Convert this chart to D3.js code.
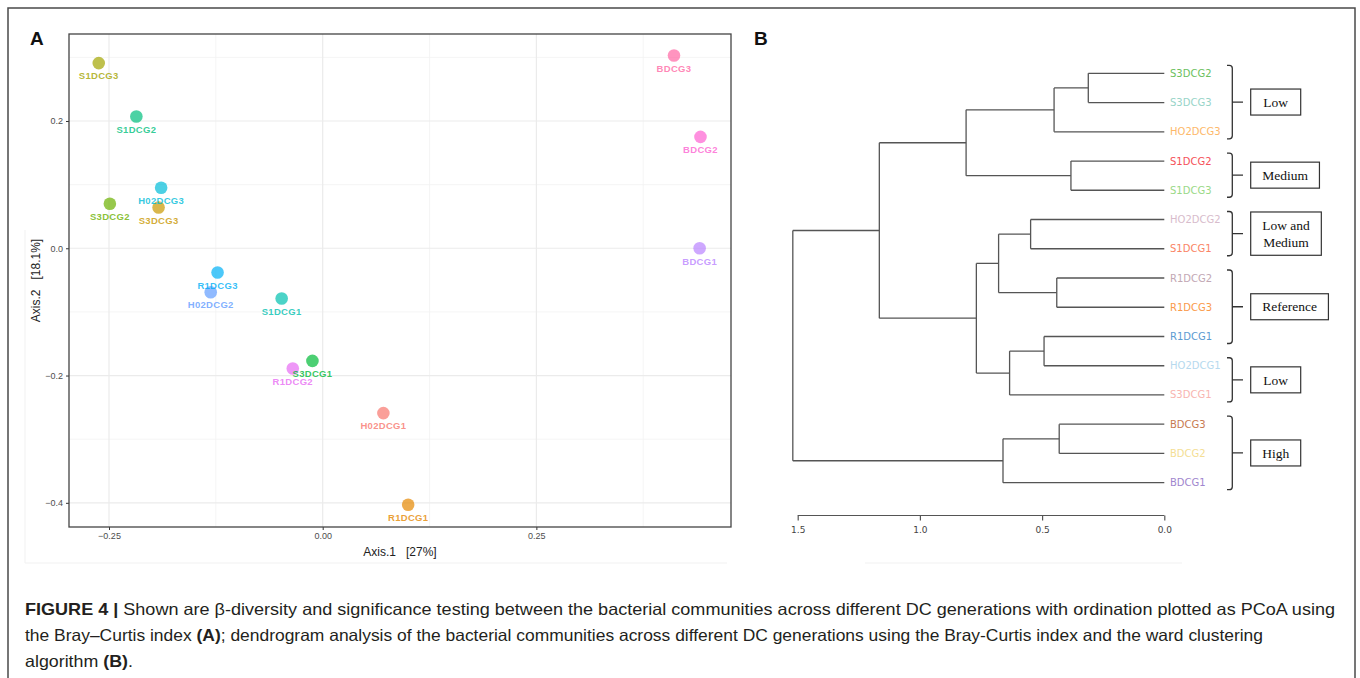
<!DOCTYPE html>
<html>
<head>
<meta charset="utf-8">
<script src="https://cdn.jsdelivr.net/npm/d3@7"></script>
<style>
  html, body { margin: 0; padding: 0; background: #fff; }
  svg { display: block; }
</style>
</head>
<body>
<svg id="fig" width="1360" height="678"></svg>
<script>
// ---------------- Panel A data (PCoA) ----------------
const pcoaSamples = ["S1DCG3","S1DCG2","H02DCG3","S3DCG2","S3DCG3","R1DCG3","H02DCG2","S1DCG1","S3DCG1","R1DCG2","H02DCG1","R1DCG1","BDCG3","BDCG2","BDCG1"];
const pcoaAxis1 = [-0.262,-0.218,-0.189,-0.249,-0.192,-0.123,-0.131,-0.048,-0.012,-0.035,0.071,0.100,0.411,0.442,0.441];
const pcoaAxis2 = [0.291,0.207,0.095,0.070,0.064,-0.038,-0.069,-0.079,-0.177,-0.189,-0.259,-0.403,0.303,0.175,0.000];
const pcoaColors = ["#A3A500","#00BF7D","#00BCD8","#6BB100","#C99800","#00B0F6","#619CFF","#00C0AF","#00BA38","#E76BF3","#F8766D","#E58700","#FF67A4","#FD61D1","#B983FF"];
const xMajorTicks = [-0.25, 0.00, 0.25];
const xMinorTicks = [-0.125, 0.125, 0.375];
const yMajorTicks = [-0.4, -0.2, 0.0, 0.2];
const yMinorTicks = [-0.3, -0.1, 0.1, 0.3];
const xAxisTitle = "Axis.1   [27%]";
const yAxisTitle = "Axis.2   [18.1%]";

// ---------------- Panel B data (dendrogram) ----------------
const leafNames = ["S3DCG2","S3DCG3","HO2DCG3","S1DCG2","S1DCG3","HO2DCG2","S1DCG1","R1DCG2","R1DCG3","R1DCG1","HO2DCG1","S3DCG1","BDCG3","BDCG2","BDCG1"];
const leafColors = ["#6CBF5E","#98D4C8","#FDB86A","#F5515A","#9AD987","#D8BCCC","#FA8465","#C2A8B4","#FA9A4A","#5C9BD1","#B6D9EE","#F8B5B0","#C77A50","#F4DE94","#9F86CE"];
// hclust-style merges: negative = leaf (1-based), positive = earlier merge (1-based), then height
const mergeLeft   = [-1, 1, -4, 2, -6, -8, 5, -10, 8, 7, 4, -13, 12, 11];
const mergeRight  = [-2, -3, -5, 3, -7, -9, 6, -11, -12, 9, 10, -14, -15, 13];
const mergeHeight = [0.311, 0.451, 0.382, 0.811, 0.547, 0.440, 0.678, 0.492, 0.633, 0.769, 1.166, 0.430, 0.660, 1.520];
const dendroTicks = [1.5, 1.0, 0.5, 0.0];
const groupLabels = [["Low"], ["Medium"], ["Low and", "Medium"], ["Reference"], ["Low"], ["High"]];
const groupFirstLeaf = [0, 3, 5, 7, 10, 12];
const groupLastLeaf  = [2, 4, 6, 9, 11, 14];

// ---------------- Caption ----------------
const captionLines = [
  [["FIGURE 4 | ", true], ["Shown are \u03B2-diversity and significance testing between the bacterial communities across different DC generations with ordination plotted as PCoA using", false]],
  [["the Bray\u2013Curtis index ", false], ["(A)", true], ["; dendrogram analysis of the bacterial communities across different DC generations using the Bray-Curtis index and the ward clustering", false]],
  [["algorithm ", false], ["(B)", true], [".", false]]
];
const captionWidths = [1310, 1238, 108];

// =====================================================
const svg = d3.select("#fig");

// outer frame
svg.append("rect").attr("x", 8).attr("y", 8).attr("width", 1347).attr("height", 700)
  .attr("fill", "none").attr("stroke", "#4a4a4a").attr("stroke-width", 1.5);

// faint image edges
const faint = svg.append("g").attr("stroke", "#f1f1f1").attr("stroke-width", 1);
faint.append("line").attr("x1", 25).attr("x2", 727).attr("y1", 563).attr("y2", 563);
faint.append("line").attr("x1", 865).attr("x2", 1182).attr("y1", 563).attr("y2", 563);
faint.append("line").attr("x1", 25).attr("x2", 25).attr("y1", 230).attr("y2", 563);

// ---------------- Panel A ----------------
const A = { left: 69, right: 731, top: 34, bottom: 527 };
const xA = d3.scaleLinear().domain([-0.2968, 0.4777]).range([A.left, A.right]);
const yA = d3.scaleLinear().domain([-0.438, 0.3367]).range([A.bottom, A.top]);

const gA = svg.append("g");
// minor grid
gA.selectAll(".xmin").data(xMinorTicks).join("line")
  .attr("x1", d => xA(d)).attr("x2", d => xA(d)).attr("y1", A.top).attr("y2", A.bottom)
  .attr("stroke", "#F2F2F2").attr("stroke-width", 0.8);
gA.selectAll(".ymin").data(yMinorTicks).join("line")
  .attr("y1", d => yA(d)).attr("y2", d => yA(d)).attr("x1", A.left).attr("x2", A.right)
  .attr("stroke", "#F2F2F2").attr("stroke-width", 0.8);
// major grid
gA.selectAll(".xmaj").data(xMajorTicks).join("line")
  .attr("x1", d => xA(d)).attr("x2", d => xA(d)).attr("y1", A.top).attr("y2", A.bottom)
  .attr("stroke", "#EBEBEB").attr("stroke-width", 1.2);
gA.selectAll(".ymaj").data(yMajorTicks).join("line")
  .attr("y1", d => yA(d)).attr("y2", d => yA(d)).attr("x1", A.left).attr("x2", A.right)
  .attr("stroke", "#EBEBEB").attr("stroke-width", 1.2);

// axes
const xAxisA = d3.axisBottom(xA).tickValues(xMajorTicks).tickSize(3).tickPadding(3).tickFormat(d3.format(".2f"));
const yAxisA = d3.axisLeft(yA).tickValues(yMajorTicks).tickSize(3).tickPadding(3).tickFormat(d3.format(".1f"));
const gxA = gA.append("g").attr("transform", `translate(0,${A.bottom})`).call(xAxisA);
const gyA = gA.append("g").attr("transform", `translate(${A.left},0)`).call(yAxisA);
[gxA, gyA].forEach(g => {
  g.select(".domain").remove();
  g.selectAll(".tick line").attr("stroke", "#333").attr("stroke-width", 1);
  g.selectAll(".tick text").attr("fill", "#4D4D4D").attr("font-size", "9px")
    .attr("font-family", "'Liberation Sans', Arial, sans-serif");
});

// panel border
gA.append("rect").attr("x", A.left).attr("y", A.top)
  .attr("width", A.right - A.left).attr("height", A.bottom - A.top)
  .attr("fill", "none").attr("stroke", "#444").attr("stroke-width", 1.3);

// points
gA.selectAll(".pt").data(pcoaSamples).join("circle")
  .attr("cx", (d, i) => xA(pcoaAxis1[i])).attr("cy", (d, i) => yA(pcoaAxis2[i]))
  .attr("r", 6.3).attr("fill", (d, i) => pcoaColors[i]).attr("fill-opacity", 0.7);
// labels
gA.selectAll(".lbl").data(pcoaSamples).join("text")
  .attr("x", (d, i) => xA(pcoaAxis1[i])).attr("y", (d, i) => yA(pcoaAxis2[i]) + 16.3)
  .attr("text-anchor", "middle")
  .attr("font-family", "'Liberation Sans', Arial, sans-serif")
  .attr("font-weight", "bold").attr("font-size", "9.5px").attr("letter-spacing", "0.3px")
  .attr("fill", (d, i) => pcoaColors[i]).attr("fill-opacity", 0.8)
  .text(d => d);

// axis titles
gA.append("text").attr("x", (A.left + A.right) / 2).attr("y", 555.5)
  .attr("text-anchor", "middle").attr("font-size", "12px")
  .attr("font-family", "'Liberation Sans', Arial, sans-serif").attr("fill", "#222")
  .style("white-space", "pre").text(xAxisTitle);
gA.append("text").attr("transform", `translate(40,${(A.top + A.bottom) / 2}) rotate(-90)`)
  .attr("text-anchor", "middle").attr("font-size", "12px")
  .attr("font-family", "'Liberation Sans', Arial, sans-serif").attr("fill", "#222")
  .style("white-space", "pre").text(yAxisTitle);

// panel letters
svg.append("text").attr("x", 30).attr("y", 45).attr("font-size", "19px").attr("font-weight", "bold")
  .attr("font-family", "'Liberation Sans', Arial, sans-serif").attr("fill", "#111").text("A");
svg.append("text").attr("x", 754).attr("y", 45).attr("font-size", "19px").attr("font-weight", "bold")
  .attr("font-family", "'Liberation Sans', Arial, sans-serif").attr("fill", "#111").text("B");

// ---------------- Panel B ----------------
const xB = d3.scaleLinear().domain([1.5, 0]).range([797.7, 1164.3]);
const yB = d3.scalePoint().domain(leafNames).range([73.3, 482.7]);

// build tree from merges
const nodes = [];
function ref(k) {
  return k < 0 ? { name: leafNames[-k - 1], height: 0, idx: -k - 1 } : nodes[k - 1];
}
mergeHeight.forEach((h, i) => {
  nodes.push({ height: h, children: [ref(mergeLeft[i]), ref(mergeRight[i])] });
});
const root = d3.hierarchy(nodes[nodes.length - 1]);
root.eachAfter(n => {
  if (!n.children) n.yPos = yB(n.data.name);
  else n.yPos = d3.mean(n.children, c => c.yPos);
});

const gB = svg.append("g").attr("fill", "none").attr("stroke", "#555").attr("stroke-width", 1.3);
root.each(n => {
  if (!n.children) return;
  const xh = xB(n.data.height);
  const ys = n.children.map(c => c.yPos);
  gB.append("line").attr("x1", xh).attr("x2", xh).attr("y1", d3.min(ys)).attr("y2", d3.max(ys));
  n.children.forEach(c => {
    gB.append("line").attr("x1", xh).attr("x2", xB(c.data.height)).attr("y1", c.yPos).attr("y2", c.yPos);
  });
});
// leaf labels
svg.append("g").selectAll("text").data(leafNames).join("text")
  .attr("x", 1170).attr("y", d => yB(d)).attr("dy", "0.35em")
  .attr("font-family", "'DejaVu Sans', Verdana, sans-serif").attr("font-size", "10px")
  .attr("fill", (d, i) => leafColors[i]).text(d => d);

// dendrogram axis
const axB = d3.axisBottom(xB).tickValues(dendroTicks).tickSize(5).tickPadding(6).tickFormat(d3.format(".1f"));
const gaxB = svg.append("g").attr("transform", "translate(0,515.5)").call(axB);
gaxB.select(".domain").attr("stroke", "#555").attr("stroke-width", 1.2)
  .attr("d", `M${xB(1.5)},0H${xB(0)}`);
gaxB.selectAll(".tick line").attr("stroke", "#555").attr("stroke-width", 1.2);
gaxB.selectAll(".tick text").attr("fill", "#444").attr("font-size", "9px")
  .attr("font-family", "'DejaVu Sans', Verdana, sans-serif");

// group brackets + boxes
const bx = 1232.3, hookL = 1227, tickR = 1243, boxX = 1250.7;
const gG = svg.append("g");
groupLabels.forEach((lines, gi) => {
  const top = yB(leafNames[groupFirstLeaf[gi]]) - 8;
  const bot = yB(leafNames[groupLastLeaf[gi]]) + 7;
  const mid = (top + bot) / 2;
  const r = 3;
  gG.append("path")
    .attr("d", `M${hookL},${top} L${bx - r},${top} Q${bx},${top} ${bx},${top + r} L${bx},${bot - r} Q${bx},${bot} ${bx - r},${bot} L${hookL},${bot} M${bx},${mid} L${tickR},${mid}`)
    .attr("fill", "none").attr("stroke", "#333").attr("stroke-width", 1.3);
  const t = gG.append("text").attr("font-family", "'Liberation Serif', 'Times New Roman', serif")
    .attr("font-size", "13.5px").attr("fill", "#111").attr("text-anchor", "middle");
  const lh = 17.3;
  const boxH = lines.length === 1 ? 26 : 43.3;
  lines.forEach((ln, li) => {
    t.append("tspan").attr("x", 0).attr("y", mid + (li - (lines.length - 1) / 2) * lh).attr("dy", "0.35em").text(ln);
  });
  const tw = d3.max(t.selectAll("tspan").nodes(), n => n.getComputedTextLength());
  const boxW = Math.max(50, tw + 23);
  t.selectAll("tspan").attr("x", boxX + boxW / 2);
  gG.insert("rect", "text").attr("x", boxX).attr("y", mid - boxH / 2).attr("width", boxW).attr("height", boxH)
    .attr("fill", "#fff").attr("stroke", "#333").attr("stroke-width", 1.2);
});

// ---------------- Caption ----------------
const capBase = [615, 641, 666.5];
captionLines.forEach((parts, li) => {
  const t = svg.append("text").attr("x", 25).attr("y", capBase[li])
    .attr("font-family", "'Liberation Sans', Arial, sans-serif").attr("font-size", "16.5px")
    .attr("fill", "#231F20")
    .attr("textLength", captionWidths[li]).attr("lengthAdjust", "spacingAndGlyphs");
  parts.forEach(([s, b]) => {
    t.append("tspan").attr("font-weight", b ? "bold" : "normal").text(s);
  });
});
</script>
</body>
</html>
